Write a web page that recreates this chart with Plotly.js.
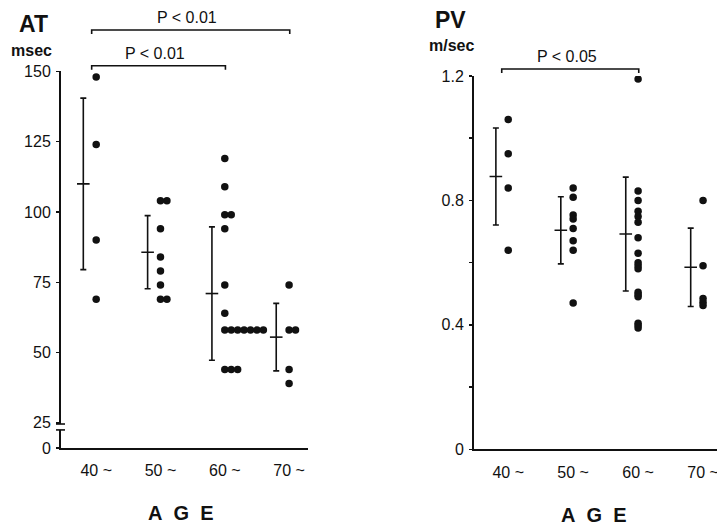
<!DOCTYPE html>
<html>
<head>
<meta charset="utf-8">
<script src="https://cdn.plot.ly/plotly-3.0.1.min.js"></script>
<style>html,body{margin:0;padding:0;background:#fff;}#chart{width:717px;height:526px;}</style>
</head>
<body>
<div id="chart"></div>
<script>
// ---- data ----
const ageGroups = ['40 ~', '50 ~', '60 ~', '70 ~'];

// AT (msec) individual values per age group
const at40 = [148, 124, 90, 69];
const at50 = [104, 104, 94, 84, 79, 74, 69, 69];
const at60 = [119, 109, 99, 99, 94, 74, 64, 58, 58, 58, 58, 58, 58, 58, 44, 44, 44];
const at70 = [74, 58, 58, 44, 39];
const atMean = [110, 85.7, 71, 55.5];
const atSD = [30.5, 13, 23.7, 12];

// PV (m/sec) individual values per age group
const pv40 = [1.06, 0.95, 0.84, 0.64];
const pv50 = [0.84, 0.81, 0.753, 0.74, 0.71, 0.67, 0.64, 0.47];
const pv60 = [1.19, 0.83, 0.80, 0.765, 0.748, 0.73, 0.68, 0.63, 0.60, 0.59, 0.58, 0.505, 0.497, 0.49, 0.405, 0.398, 0.39];
const pv70 = [0.80, 0.59, 0.485, 0.473, 0.462];
const pvMean = [0.877, 0.704, 0.692, 0.585];
const pvSD = [0.156, 0.108, 0.183, 0.126];

const atTickVals = [25, 50, 75, 100, 125, 150];
const pvTickVals = [0, 0.2, 0.4, 0.6, 0.8, 1.0, 1.2];
const pvTickText = ['0', '', '0.4', '', '0.8', '', '1.2'];

const atComparisons = [{from: 0, to: 3, label: 'P < 0.01'}, {from: 0, to: 2, label: 'P < 0.01'}];
const pvComparisons = [{from: 0, to: 2, label: 'P < 0.05'}];

// ---- layout helpers ----
const W = 717, H = 526;
const px = x => x / W;
const py = y => 1 - y / H;
const FONT = 'Liberation Sans, Arial, Helvetica, sans-serif';
const INK = '#111';

// spread identical values side by side
function spread(groups, step) {
  const xs = [], ys = [];
  groups.forEach((vals, gi) => {
    const seen = {};
    vals.forEach(v => {
      const k = seen[v] || 0;
      seen[v] = k + 1;
      xs.push(gi + k * step);
      ys.push(v);
    });
  });
  return {xs, ys};
}

const atPts = spread([at40, at50, at60, at70], 0.1);
const pvPts = spread([pv40, pv50, pv60, pv70], 0.1);
const idx = ageGroups.map((_, i) => i);

const dotMarker = {color: INK, size: 7.5, line: {width: 0}};
const meanMarker = {symbol: 'line-ew', size: 9, line: {color: INK, width: 1.6}, color: INK};

const traces = [
  {type: 'scatter', mode: 'markers', x: atPts.xs, y: atPts.ys, marker: dotMarker, xaxis: 'x', yaxis: 'y', hoverinfo: 'y'},
  {type: 'scatter', mode: 'markers', x: idx.map(i => i - 0.2), y: atMean, marker: meanMarker,
   error_y: {type: 'data', array: atSD, visible: true, color: INK, thickness: 1.6, width: 3},
   xaxis: 'x', yaxis: 'y', hoverinfo: 'y'},
  {type: 'scatter', mode: 'markers', x: pvPts.xs, y: pvPts.ys, marker: dotMarker, xaxis: 'x2', yaxis: 'y2', hoverinfo: 'y'},
  {type: 'scatter', mode: 'markers', x: idx.map(i => i - 0.19), y: pvMean, marker: meanMarker,
   error_y: {type: 'data', array: pvSD, visible: true, color: INK, thickness: 1.6, width: 3},
   xaxis: 'x2', yaxis: 'y2', hoverinfo: 'y'}
];

// y of the "0" label at the bottom of the broken AT axis
const atBottom = 16.07;

const xCommon = {
  tickvals: idx, ticktext: ageGroups, showline: true, linecolor: INK, linewidth: 2,
  ticks: '', showgrid: false, zeroline: false, ticklabelstandoff: 7, ticklabeloverflow: 'allow',
  tickfont: {family: FONT, size: 16, color: INK}
};
const yCommon = {
  showline: true, linecolor: INK, linewidth: 2, ticks: 'outside', ticklen: 3, tickwidth: 1.5,
  tickcolor: INK, showgrid: false, zeroline: false, ticklabelstandoff: 2,
  tickfont: {family: FONT, size: 16, color: INK}
};

const layout = {
  width: W, height: H, margin: {l: 0, r: 0, t: 0, b: 0},
  paper_bgcolor: '#fff', plot_bgcolor: 'rgba(0,0,0,0)', showlegend: false,
  xaxis: Object.assign({}, xCommon, {domain: [px(61), px(308)], range: [-0.547, 3.294], anchor: 'y'}),
  yaxis: Object.assign({}, yCommon, {domain: [py(448), py(71.4)], range: [atBottom, 150], anchor: 'x',
    tickvals: [atBottom].concat(atTickVals), ticktext: ['0'].concat(atTickVals.map(String))}),
  xaxis2: Object.assign({}, xCommon, {domain: [px(474), 1], range: [-0.527, 3.215], anchor: 'y2'}),
  yaxis2: Object.assign({}, yCommon, {domain: [py(449.3), py(76)], range: [0, 1.2], anchor: 'x2',
    tickvals: pvTickVals, ticktext: pvTickText}),
  shapes: [],
  annotations: []
};

// axis break on the AT axis
layout.shapes.push({type: 'rect', xref: 'paper', yref: 'y', x0: px(57), x1: px(65), y0: 22.5, y1: 24.6,
  fillcolor: '#fff', line: {width: 0}, layer: 'above'});
[24.6, 22.5].forEach(v => layout.shapes.push({type: 'line', xref: 'paper', yref: 'y', x0: px(56), x1: px(65),
  y0: v, y1: v, line: {color: INK, width: 1.6}, layer: 'above'}));

// significance brackets
function bracket(comp, xref, yLinePx, textPx, leftOff) {
  const x0 = comp.from + leftOff, x1 = comp.to + 0.01;
  const yl = py(yLinePx), yt = py(yLinePx + 4);
  layout.shapes.push({type: 'path', xref: xref, yref: 'paper',
    path: `M ${x0},${yt} L ${x0},${yl} L ${x1},${yl} L ${x1},${yt}`,
    line: {color: INK, width: 1.6}});
  layout.annotations.push({xref: xref, yref: 'paper', x: (x0 + x1) / 2 - 0.05, y: py(textPx), text: comp.label,
    showarrow: false, xanchor: 'center', yanchor: 'middle', font: {family: FONT, size: 16, color: INK}});
}
bracket(atComparisons[0], 'x', 30, 17, -0.07);
bracket(atComparisons[1], 'x', 65.7, 53, -0.07);
bracket(pvComparisons[0], 'x2', 69, 56.7, -0.1);

// titles
function label(text, x, y, size, bold) {
  layout.annotations.push({xref: 'paper', yref: 'paper', x: px(x), y: py(y), text: bold ? '<b>' + text + '</b>' : text,
    showarrow: false, xanchor: 'center', yanchor: 'middle', font: {family: FONT, size: size, color: INK}});
}
label('AT', 33, 24, 23, true);
label('msec', 31, 50, 16, true);
label('PV', 450, 20, 23, true);
label('m/sec', 451, 45, 16, true);
label('A\u00a0\u00a0G\u00a0\u00a0E', 181, 513, 20, true);
label('A\u00a0\u00a0G\u00a0\u00a0E', 594, 515, 20, true);

Plotly.newPlot('chart', traces, layout, {staticPlot: true, displayModeBar: false});
</script>
</body>
</html>
